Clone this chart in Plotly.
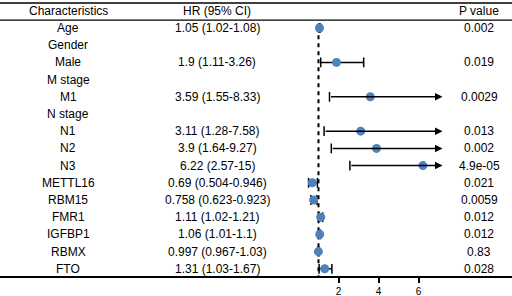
import plotly.graph_objects as go

# ---- data ----
labels = ["Age", "Gender", "Male", "M stage", "M1", "N stage", "N1", "N2", "N3",
          "METTL16", "RBM15", "FMR1", "IGFBP1", "RBMX", "FTO"]
hr = [1.05, None, 1.9, None, 3.59, None, 3.11, 3.9, 6.22,
      0.69, 0.758, 1.11, 1.06, 0.997, 1.31]
lower = [1.02, None, 1.11, None, 1.55, None, 1.28, 1.64, 2.57,
         0.504, 0.623, 1.02, 1.01, 0.967, 1.03]
upper = [1.08, None, 3.26, None, 8.33, None, 7.58, 9.27, 15,
         0.946, 0.923, 1.21, 1.1, 1.03, 1.67]
hr_text = ["1.05 (1.02-1.08)", "", "1.9 (1.11-3.26)", "", "3.59 (1.55-8.33)", "",
           "3.11 (1.28-7.58)", "3.9 (1.64-9.27)", "6.22 (2.57-15)",
           "0.69 (0.504-0.946)", "0.758 (0.623-0.923)", "1.11 (1.02-1.21)",
           "1.06 (1.01-1.1)", "0.997 (0.967-1.03)", "1.31 (1.03-1.67)"]
p_text = ["0.002", "", "0.019", "", "0.0029", "", "0.013", "0.002", "4.9e-05",
          "0.021", "0.0059", "0.012", "0.012", "0.83", "0.028"]
tick_vals = [2, 4, 6]

# ---- style / layout ----
W, H = 512, 296
FONT = "Liberation Sans, Arial, sans-serif"
FS = 12
X_MAX_SHOWN = 7.2          # arrows clip here
X_RANGE = [-14.925, 10.675]
Y_RANGE = [14.42, -1.628]
COL_CHAR = 68 / W
COL_HR = 217 / W
COL_P = 479 / W
BLUE = "#4f81bd"

fig = go.Figure()
rows = list(range(len(labels)))

# error bars
for i in rows:
    if hr[i] is None:
        continue
    lo, up = lower[i], upper[i]
    if up > X_MAX_SHOWN:
        fig.add_annotation(x=X_MAX_SHOWN, y=i, ax=lo, ay=i, xref="x", yref="y",
                           axref="x", ayref="y", showarrow=True, arrowhead=2,
                           arrowsize=1, arrowwidth=1.5, arrowcolor="black", text="")
        fig.add_trace(go.Scatter(x=[lo], y=[i], mode="markers",
                                 marker=dict(symbol="line-ns", size=7,
                                             line=dict(width=1.5, color="black")),
                                 showlegend=False, hoverinfo="skip"))
    else:
        fig.add_trace(go.Scatter(x=[lo, up], y=[i, i], mode="lines+markers",
                                 line=dict(color="black", width=1.5),
                                 marker=dict(symbol="line-ns", size=7,
                                             line=dict(width=1.5, color="black")),
                                 showlegend=False, hoverinfo="skip"))

# reference line at HR = 1
fig.add_trace(go.Scatter(x=[1, 1], y=[-0.05, Y_RANGE[0]], mode="lines",
                         line=dict(color="black", width=2, dash="4px,4px"),
                         showlegend=False, hoverinfo="skip"))

# points
px = [hr[i] for i in rows if hr[i] is not None]
py = [i for i in rows if hr[i] is not None]
fig.add_trace(go.Scatter(x=px, y=py, mode="markers",
                         marker=dict(color=BLUE, size=9),
                         showlegend=False, hoverinfo="skip"))

# table text
def txt(xp, y, s):
    fig.add_annotation(x=xp, y=y, xref="paper", yref="y", text=s, showarrow=False,
                       xanchor="center", yanchor="middle",
                       font=dict(family=FONT, size=FS, color="black"))

header_y = -0.97
txt(COL_CHAR, header_y, "Characteristics")
txt(COL_HR, header_y, "HR (95% CI)")
txt(COL_P, header_y, "P value")
for i in rows:
    txt(COL_CHAR, i, labels[i])
    if hr_text[i]:
        txt(COL_HR, i, hr_text[i])
    if p_text[i]:
        txt(COL_P, i, p_text[i])

# header lines
fig.add_shape(type="line", xref="paper", yref="y", x0=0, x1=1, y0=-1.45, y1=-1.45,
              line=dict(color="black", width=1.5))
fig.add_shape(type="line", xref="paper", yref="y", x0=0, x1=1, y0=-0.46, y1=-0.46,
              line=dict(color="black", width=1.2))

fig.update_xaxes(range=X_RANGE, showgrid=False, zeroline=False, showline=True,
                 linecolor="black", linewidth=2, ticks="outside", ticklen=5,
                 tickwidth=1.5, tickcolor="black", tickvals=tick_vals,
                 tickfont=dict(family=FONT, size=10, color="black"))
fig.update_yaxes(range=Y_RANGE, showgrid=False, zeroline=False, showline=False,
                 showticklabels=False)
fig.update_layout(width=W, height=H, margin=dict(l=0, r=0, t=0, b=20),
                  plot_bgcolor="white", paper_bgcolor="white")

fig.write_html("out.html", config={"displayModeBar": False},
               post_script="document.body.style.margin='0px';document.body.style.overflow='hidden';")
